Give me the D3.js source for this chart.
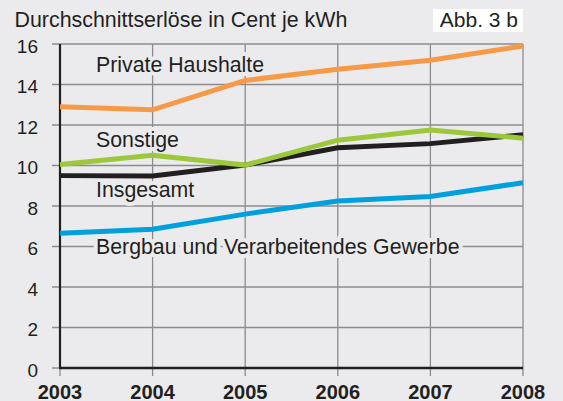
<!DOCTYPE html>
<html>
<head>
<meta charset="utf-8">
<script src="https://cdn.jsdelivr.net/npm/d3@7"></script>
<style>
  body { margin: 0; background: #ebebed; }
  svg { display: block; font-family: "Liberation Sans", Arial, sans-serif; }
</style>
</head>
<body>
<div id="chart"></div>
<script>
var years = [2003, 2004, 2005, 2006, 2007, 2008];
var yTicks = [0, 2, 4, 6, 8, 10, 12, 14, 16];

var privat = [12.9, 12.75, 14.2, 14.75, 15.2, 15.9];
var sonstige = [10.05, 10.5, 10.02, 11.25, 11.75, 11.35];
var insgesamt = [9.5, 9.48, 10.02, 10.88, 11.08, 11.52];
var bergbau = [6.65, 6.85, 7.6, 8.25, 8.47, 9.15];

var labelTexts = ["Private Haushalte", "Sonstige", "Insgesamt", "Bergbau und Verarbeitendes Gewerbe"];

var bg = "#ebebed";
var gridColor = "#8c8c8c";
var textColor = "#231f20";

var width = 563, height = 401;
var margin = { top: 44, right: 40, bottom: 33, left: 60 };

var svg = d3.select("#chart")
    .append("svg")
    .attr("width", width)
    .attr("height", height);

svg.append("rect").attr("width", width).attr("height", height).attr("fill", bg);

var x = d3.scaleLinear()
    .domain([2003, 2008])
    .range([margin.left, width - margin.right]);
var y = d3.scaleLinear()
    .domain([0, 16])
    .range([height - margin.bottom, margin.top]);

// horizontal grid (with ticks sticking out left)
svg.append("g")
    .selectAll("line")
    .data(yTicks)
    .enter().append("line")
    .attr("x1", margin.left - 8)
    .attr("x2", x(2008))
    .attr("y1", d => y(d))
    .attr("y2", d => y(d))
    .attr("stroke", gridColor)
    .attr("stroke-width", 1.3);

// vertical grid (with ticks sticking out below)
svg.append("g")
    .selectAll("line")
    .data(years)
    .enter().append("line")
    .attr("x1", d => x(d))
    .attr("x2", d => x(d))
    .attr("y1", y(16))
    .attr("y2", y(0) + 8)
    .attr("stroke", gridColor)
    .attr("stroke-width", 1.3);

// series labels with background halo
var labelPos = [71.7, 146.7, 196.7, 254];
svg.append("g")
    .selectAll("text")
    .data(labelTexts)
    .enter().append("text")
    .attr("x", 96)
    .attr("y", (d, i) => labelPos[i])
    .attr("font-size", 21.3)
    .attr("fill", textColor)
    .attr("stroke", bg)
    .attr("stroke-width", 8)
    .attr("stroke-linejoin", "round")
    .style("paint-order", "stroke")
    .text(d => d);

// axis lines
svg.append("line")
    .attr("x1", x(2003)).attr("x2", x(2003))
    .attr("y1", y(16)).attr("y2", y(0))
    .attr("stroke", textColor).attr("stroke-width", 2.2);
svg.append("line")
    .attr("x1", x(2003) - 1).attr("x2", x(2008))
    .attr("y1", y(0)).attr("y2", y(0))
    .attr("stroke", textColor).attr("stroke-width", 2.6);

// y tick labels
svg.append("g")
    .selectAll("text")
    .data(yTicks)
    .enter().append("text")
    .attr("x", 38)
    .attr("y", d => y(d) + 8.5)
    .attr("text-anchor", "end")
    .attr("font-size", 19)
    .attr("fill", textColor)
    .text(d => d);

// x tick labels
svg.append("g")
    .selectAll("text")
    .data(years)
    .enter().append("text")
    .attr("x", d => x(d))
    .attr("y", 398.5)
    .attr("text-anchor", "middle")
    .attr("font-size", 20)
    .attr("font-weight", "bold")
    .attr("fill", textColor)
    .text(d => d);

// data lines
var line = d3.line()
    .x((d, i) => x(years[i]))
    .y(d => y(d));

var series = [
    { values: bergbau, color: "#00a0dc" },
    { values: insgesamt, color: "#231f20" },
    { values: sonstige, color: "#9dc83c" },
    { values: privat, color: "#f79a48" }
];

svg.append("g")
    .selectAll("path")
    .data(series)
    .enter().append("path")
    .attr("d", d => line(d.values))
    .attr("fill", "none")
    .attr("stroke", d => d.color)
    .attr("stroke-width", 5);

// title
svg.append("text")
    .attr("x", 14.5)
    .attr("y", 27.3)
    .attr("font-size", 21.4)
    .attr("fill", textColor)
    .text("Durchschnittserlöse in Cent je kWh");

svg.append("rect")
    .attr("x", 433).attr("y", 9)
    .attr("width", 90).attr("height", 23)
    .attr("fill", "#ffffff");
svg.append("text")
    .attr("x", 518)
    .attr("y", 27.3)
    .attr("text-anchor", "end")
    .attr("font-size", 21)
    .attr("fill", textColor)
    .text("Abb. 3 b");
</script>
</body>
</html>
